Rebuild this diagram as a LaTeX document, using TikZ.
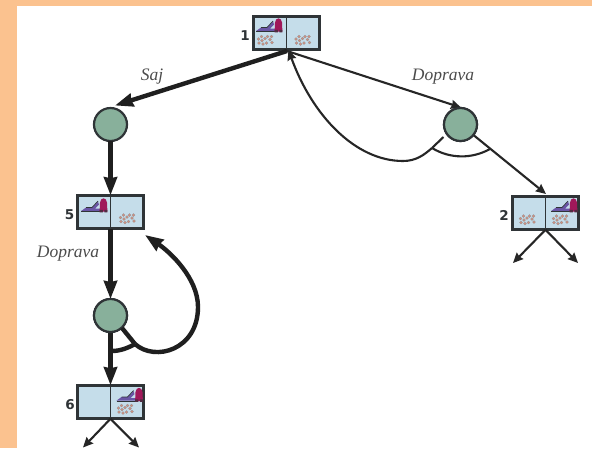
\documentclass[tikz,border=0pt]{standalone}
\usepackage{fontspec}
\setmainfont{Liberation Serif}
\setsansfont{DejaVu Sans}
\usetikzlibrary{arrows.meta}
\definecolor{peach}{HTML}{FBC28F}
\definecolor{boxfill}{HTML}{C5DDEA}
\definecolor{boxline}{HTML}{2F3437}
\definecolor{chance}{HTML}{88B09B}
\definecolor{vacred}{HTML}{A0185A}
\definecolor{vacblue}{HTML}{6A55A5}
\definecolor{dirt}{HTML}{D09080}
\tikzset{
  x=1pt,y=-1pt,
  state/.style={draw=boxline,line width=2.8pt,fill=boxfill,minimum width=66.5pt,minimum height=33.5pt,inner sep=0pt,outer sep=0pt},
  chancenode/.style={circle,draw=boxline,line width=2.2pt,fill=chance,minimum size=33pt,inner sep=0pt,outer sep=0pt},
  thin edge/.style={draw=black!85,line width=2.1pt,-{Stealth[length=10pt,width=9pt,inset=1pt]}},
  thick edge/.style={draw=black!88,line width=4.4pt,-{Stealth[length=18pt,width=13pt,inset=1pt]}},
  thin arc/.style={draw=black!85,line width=2.1pt},
  thick arc/.style={draw=black!88,line width=4.4pt},
  divider/.style={draw=boxline,line width=1.2pt},
  num/.style={font=\sffamily\bfseries\fontsize{13.5}{15}\selectfont,text=boxline,inner sep=0pt},
  act/.style={font=\itshape\fontsize{17.5}{20}\selectfont,text=black!70,inner sep=0pt}
}
\newcommand{\vacicon}[2]{%
  \begin{scope}[shift={(#1,#2)}]
    \fill[vacblue] (-13,5.6) -- (-8,2) -- (-2,2) -- (1,-1) -- (4,-4) -- (5,-1) -- (1,3) -- (6,3) -- (6,5.6) -- cycle;
    \draw[boxline,line width=.8pt] (-13,6) -- (6,6);
    \draw[boxline,line width=.7pt] (-8,2) -- (-2,2) -- (4,-4.5);
    \fill[vacred] (5.6,6.2) -- (6,-3) .. controls (6.5,-8.5) and (12.5,-8.5) .. (13,-3) -- (13.4,6.2) -- cycle;
    \fill[boxline!70!vacred] (5.6,4.4) rectangle (8.8,6.8) (10.3,4.4) rectangle (13.4,6.8);
  \end{scope}}
\newcommand{\dirticon}[2]{%
  \begin{scope}[shift={(#1,#2)}]
    \foreach \dx/\dy in {-6.5/-1,-3.5/-3.5,-3/.5,0/-1.5,1.5/3,2.5/-3.5,5/-0.5,6.5/-3.5,-6/3,7/2.5,-2/4}
      \fill[dirt,draw=boxline!55,line width=.3pt] (\dx,\dy) circle (1.5pt);
  \end{scope}}
\begin{document}
\begin{tikzpicture}
\useasboundingbox (0,0) rectangle (592,448);
\fill[peach] (0,0) rectangle (592,448);
\fill[white] (17,6) rectangle (592,448);

\node[state] (s1) at (286.5,33) {};
\node[state] (s5) at (110.5,212) {};
\node[state] (s6) at (110.5,402) {};
\node[state] (s2) at (545.5,213) {};
\node[chancenode] (c1) at (110.5,124.5) {};
\node[chancenode] (c2) at (460.5,124.5) {};
\node[chancenode] (c3) at (110.5,315.5) {};

\draw[divider] (s1.north) -- (s1.south);
\draw[divider] (s5.north) -- (s5.south);
\draw[divider] (s6.north) -- (s6.south);
\draw[divider] (s2.north) -- (s2.south);

\vacicon{269}{25.5}\dirticon{265}{40}\dirticon{302.5}{40}
\vacicon{94}{205.5}\dirticon{127}{218.5}
\vacicon{129.5}{395}\dirticon{125}{409}
\vacicon{564}{205.5}\dirticon{527}{219.5}\dirticon{560}{219.5}

\node[num] (n1) at (245,35.5) {1};
\node[num] (n5) at (69.5,215) {5};
\node[num] (n6) at (70,405) {6};
\node[num] (n2) at (504,215.5) {2};

\node[act] (l1) at (152,77) {Saj};
\node[act] (l2) at (443,77) {Doprava};
\node[act] (l3) at (68,254) {Doprava};

\coordinate (p1) at (287,51);
\coordinate (h1) at (115,105.5);
\coordinate (h2) at (461,107.5);
\coordinate (a2) at (546,194);
\draw[thick edge] (p1) -- (h1);
\draw[thin edge] (p1) -- (h2);
\draw[thick edge] (c1.south) -- (s5.north);
\draw[thick edge] (c3.south) -- (s6.north);
\draw[thick edge] (s5.south) -- (c3.north);
\draw[thin edge] (c2) -- (a2);
\node[chancenode] at (c2) {};
\node[chancenode] at (c3) {};

% return arcs
\coordinate (r1) at (432,148);
\coordinate (r2) at (490,149);
\coordinate (b1) at (403,161);
\coordinate (tip1) at (288.5,50);
\draw[thin arc] (c2) ++(-17,12.5) -- (r1);
\draw[thin arc] (r1) .. controls (450,159) and (472,159) .. (r2);
\draw[thin arc] (r1) .. controls (424,155) and (416,161) .. (b1);
\draw[thin edge] (b1) .. controls (355,161) and (312,115) .. (tip1);

\coordinate (r3) at (122,328);
\coordinate (r4) at (135,344);
\coordinate (r5) at (112,351);
\coordinate (tip2) at (145,235);
\draw[thick arc] (r3) -- (r4);
\draw[thick arc] (r5) .. controls (120,351) and (128,348) .. (r4);
\draw[thick edge] (r4) .. controls (155,362) and (198,350) .. (198,307) .. controls (198,278) and (170,252) .. (tip2);

% outgoing stubs
\coordinate (t1) at (513,263);
\coordinate (t2) at (578,263);
\coordinate (t3) at (83,447.5);
\coordinate (t4) at (139,447.5);
\draw[thin edge] (s2.south) -- (t1);
\draw[thin edge] (s2.south) -- (t2);
\draw[thin edge] (s6.south) -- (t3);
\draw[thin edge] (s6.south) -- (t4);
\end{tikzpicture}
\end{document}
